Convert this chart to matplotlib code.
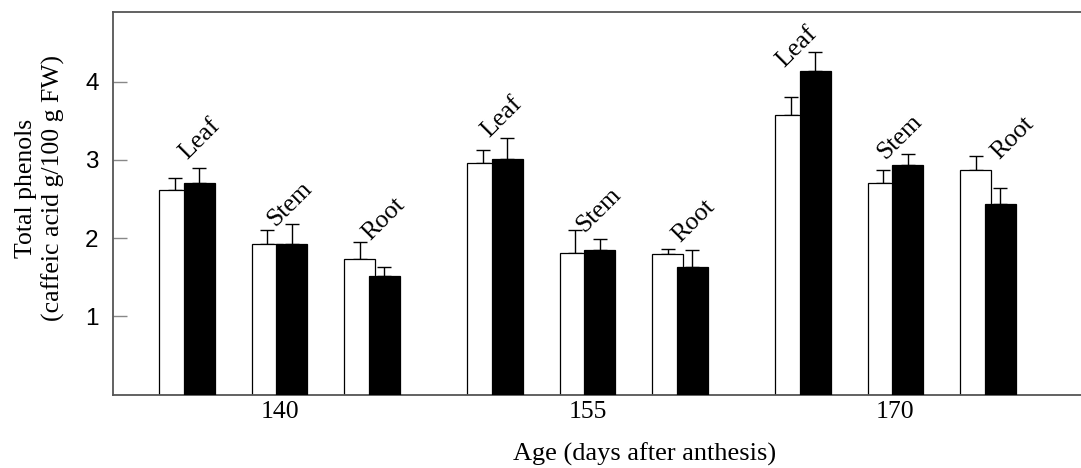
import numpy as np
import matplotlib
matplotlib.use("Agg")
import matplotlib.pyplot as plt

ages = ["140", "155", "170"]
organs = ["Leaf", "Stem", "Root"]

# rows = age, columns = organ (Leaf, Stem, Root)
white_mean = np.array([[2.62, 1.92, 1.73],
                       [2.96, 1.81, 1.80],
                       [3.57, 2.70, 2.87]])
white_err = np.array([[0.15, 0.18, 0.22],
                      [0.17, 0.29, 0.06],
                      [0.23, 0.17, 0.18]])
black_mean = np.array([[2.70, 1.92, 1.52],
                       [3.01, 1.85, 1.63],
                       [4.14, 2.93, 2.44]])
black_err = np.array([[0.20, 0.26, 0.11],
                      [0.27, 0.14, 0.22],
                      [0.24, 0.15, 0.20]])

SERIF = "Liberation Serif"
SANS = "Liberation Sans"

# layout (in units of the spacing between organ pairs)
group_gap = 3.337
shift = 0.133
width = 0.336
# small per-label nudges (dx in organ units, dy in data units) for the organ labels
label_dx = np.array([[0.0, -0.05, -0.02],
                     [-0.06, -0.03, 0.0],
                     [-0.21, -0.11, 0.12]])
label_dy = np.array([[0.095, -0.04, 0.01],
                     [0.0, -0.04, 0.08],
                     [-0.21, -0.08, -0.05]])

fig = plt.figure(figsize=(10.81, 4.68), dpi=100)
ax = fig.add_axes([0.1041, 0.157, 0.8959, 0.818])

centers = np.arange(len(ages))[:, None] * group_gap + np.array([-1, 0, 1])[None, :]

ebar = dict(ecolor="black", elinewidth=1.0, capsize=5.3, capthick=1.0)
zeros = np.zeros(white_mean.size)

ax.bar((centers - shift).ravel(), white_mean.ravel(), width, color="white",
       edgecolor="black", linewidth=0.9, zorder=2)
ax.errorbar((centers - shift).ravel(), white_mean.ravel(),
            yerr=[zeros, white_err.ravel()], fmt="none", zorder=1.5, **ebar)
ax.bar((centers + shift).ravel(), black_mean.ravel(), width, color="black",
       edgecolor="black", linewidth=0.9, zorder=3)
ax.errorbar((centers + shift).ravel(), black_mean.ravel(),
            yerr=[zeros, black_err.ravel()], fmt="none", zorder=2.5, **ebar)

tops = np.maximum(white_mean + white_err, black_mean + black_err)
for g in range(len(ages)):
    for k, name in enumerate(organs):
        ax.text(centers[g, k] + label_dx[g, k], tops[g, k] + label_dy[g, k], name,
                rotation=45, rotation_mode="anchor", ha="left", va="baseline",
                family=SERIF, fontsize=18.5, zorder=4)

ax.set_xlim(-1.809, 8.684)
ax.set_ylim(0, 4.895)

ax.set_xticks(centers[:, 1])
ax.set_xticklabels(ages, family=SERIF, fontsize=18.5)
ax.tick_params(axis="x", length=0, pad=5)

ax.set_yticks([1, 2, 3, 4])
ax.set_yticklabels(["1", "2", "3", "4"], family=SANS, fontsize=17.5)
ax.tick_params(axis="y", direction="in", length=10, width=1.0, color="#888888", pad=10)

ax.spines["right"].set_visible(False)
for side in ["left", "bottom", "top"]:
    ax.spines[side].set_color("#555555")
    ax.spines[side].set_linewidth(1.3)

fig.text(40 / 1081, 1 - 188 / 468, "Total phenols\n(caffeic acid g/100 g FW)",
         rotation=90, ha="center", va="center", multialignment="center",
         family=SERIF, fontsize=18.5)
fig.text(645 / 1081, 1 - 454 / 468, "Age (days after anthesis)",
         ha="center", va="center", family=SERIF, fontsize=19)

fig.savefig("out.png", dpi=100)
